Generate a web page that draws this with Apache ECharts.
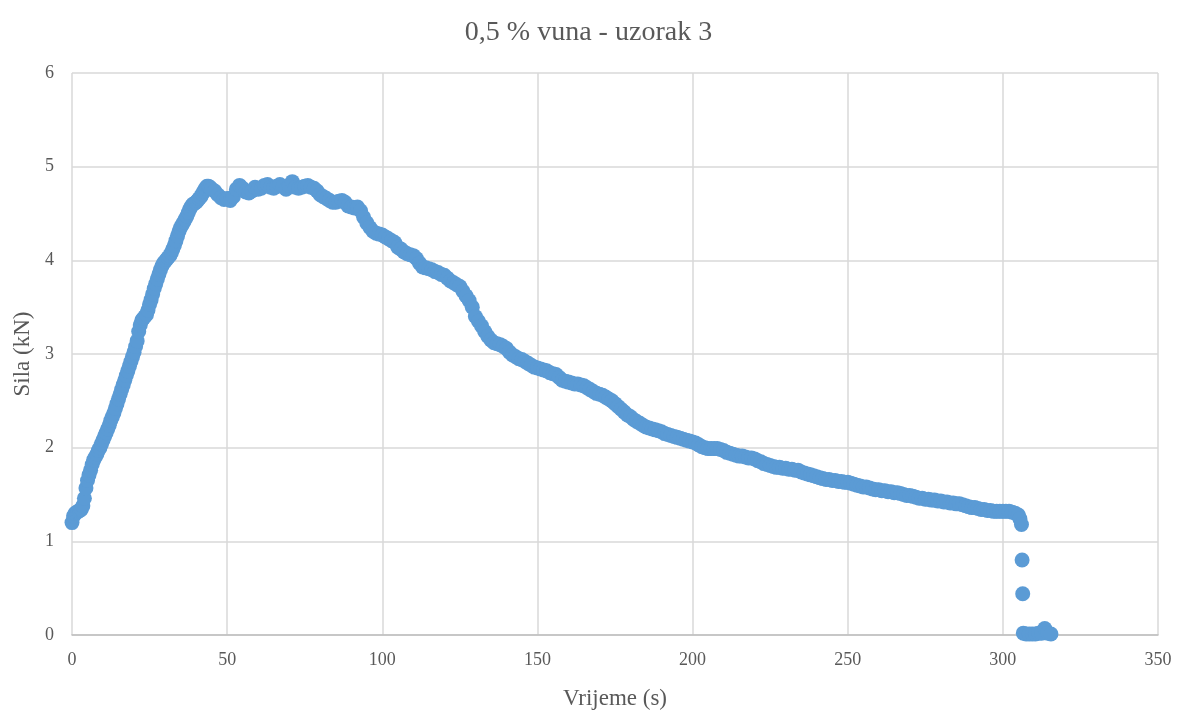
<!DOCTYPE html>
<html>
<head>
<meta charset="utf-8">
<title>0,5 % vuna - uzorak 3</title>
<script src="https://cdn.jsdelivr.net/npm/echarts@6/dist/echarts.min.js"></script>
<style>
  html, body { margin: 0; padding: 0; background: #ffffff; }
  #chart { width: 1177px; height: 715px; }
</style>
</head>
<body>
<div id="chart"></div>
<script>
// Force–time record for specimen 3 (0.5 % wool)
// Loading phase, sampled every half second
const riseTime = [
  0, 0.5, 1, 1.5, 2, 2.5, 3, 3.5, 4, 4.5, 5, 5.5, 6, 6.5, 7, 7.5, 8, 8.5, 9, 9.5,
  10, 10.5, 11, 11.5, 12, 12.5, 13, 13.5, 14, 14.5, 15, 15.5, 16, 16.5, 17, 17.5, 18, 18.5, 19, 19.5,
  20, 20.5, 21, 21.5, 22, 22.5, 23, 23.5, 24, 24.5, 25, 25.5, 26, 26.5, 27, 27.5, 28, 28.5, 29, 29.5,
  30, 30.5, 31, 31.5, 32, 32.5, 33, 33.5, 34, 34.5, 35, 35.5, 36, 36.5, 37, 37.5, 38, 38.5, 39, 39.5,
  40, 40.5, 41, 41.5, 42, 42.5, 43, 43.5, 44, 44.5, 45
];
const riseForce = [
  1.20, 1.27, 1.30, 1.31, 1.32, 1.33, 1.34, 1.38, 1.46, 1.57, 1.65, 1.71, 1.76, 1.82, 1.87, 1.90, 1.93, 1.97, 2.00, 2.04,
  2.08, 2.12, 2.16, 2.20, 2.24, 2.29, 2.33, 2.37, 2.42, 2.47, 2.52, 2.57, 2.62, 2.67, 2.72, 2.77, 2.82, 2.87, 2.92, 2.97,
  3.02, 3.08, 3.14, 3.24, 3.31, 3.36, 3.38, 3.40, 3.42, 3.47, 3.53, 3.58, 3.64, 3.70, 3.75, 3.80, 3.85, 3.90, 3.94, 3.97,
  3.99, 4.01, 4.03, 4.05, 4.08, 4.12, 4.16, 4.21, 4.26, 4.31, 4.35, 4.38, 4.41, 4.44, 4.47, 4.51, 4.55, 4.58, 4.60, 4.61,
  4.62, 4.64, 4.66, 4.68, 4.71, 4.74, 4.77, 4.79, 4.79, 4.78, 4.76
];

// Plateau and softening phase, one reading per second from 46 s to 305 s
const decayStart = 46;
const decayForce = [
  4.74, 4.70, 4.67, 4.65, 4.66, 4.64, 4.68, 4.76, 4.80, 4.77, 4.73, 4.72, 4.74, 4.78, 4.76,           // 46–60
  4.77, 4.80, 4.81, 4.78, 4.77, 4.79, 4.81, 4.79, 4.76, 4.80, 4.84, 4.78, 4.77, 4.78, 4.79,           // 61–75
  4.80, 4.78, 4.77, 4.74, 4.70, 4.68, 4.66, 4.64, 4.62, 4.62, 4.63, 4.64, 4.62, 4.58, 4.57,           // 76–90
  4.56, 4.57, 4.53, 4.46, 4.40, 4.35, 4.31, 4.29, 4.28, 4.27, 4.25, 4.23, 4.21, 4.19, 4.14,           // 91–105
  4.12, 4.09, 4.07, 4.06, 4.05, 4.02, 3.97, 3.93, 3.92, 3.91, 3.90, 3.88, 3.87, 3.85, 3.84,           // 106–120
  3.81, 3.78, 3.76, 3.74, 3.72, 3.67, 3.62, 3.57, 3.50, 3.40, 3.35, 3.30, 3.24, 3.19, 3.15,           // 121–135
  3.12, 3.11, 3.10, 3.08, 3.06, 3.02, 2.99, 2.97, 2.95, 2.94, 2.92, 2.90, 2.88, 2.86, 2.85,           // 136–150
  2.84, 2.83, 2.82, 2.80, 2.79, 2.78, 2.75, 2.72, 2.71, 2.70, 2.69, 2.68, 2.68, 2.67, 2.66,           // 151–165
  2.64, 2.62, 2.60, 2.58, 2.57, 2.56, 2.54, 2.52, 2.50, 2.47, 2.44, 2.41, 2.38, 2.35, 2.33,           // 166–180
  2.30, 2.28, 2.26, 2.24, 2.22, 2.21, 2.20, 2.19, 2.18, 2.17, 2.15, 2.14, 2.13, 2.12, 2.11,           // 181–195
  2.10, 2.09, 2.08, 2.07, 2.06, 2.05, 2.03, 2.01, 2.00, 1.99, 1.99, 1.99, 1.99, 1.98, 1.97,           // 196–210
  1.95, 1.94, 1.93, 1.92, 1.91, 1.91, 1.90, 1.89, 1.89, 1.88, 1.86, 1.85, 1.83, 1.82, 1.81,           // 211–225
  1.80, 1.79, 1.79, 1.78, 1.78, 1.77, 1.77, 1.76, 1.76, 1.74, 1.73, 1.72, 1.71, 1.70, 1.69,           // 226–240
  1.68, 1.67, 1.66, 1.66, 1.65, 1.65, 1.64, 1.64, 1.63, 1.63, 1.62, 1.61, 1.60, 1.59, 1.58,           // 241–255
  1.58, 1.57, 1.56, 1.55, 1.55, 1.54, 1.54, 1.53, 1.53, 1.52, 1.52, 1.51, 1.50, 1.49, 1.49,           // 256–270
  1.48, 1.47, 1.46, 1.46, 1.45, 1.45, 1.44, 1.44, 1.43, 1.43, 1.42, 1.42, 1.41, 1.41, 1.40,           // 271–285
  1.40, 1.39, 1.38, 1.37, 1.36, 1.36, 1.35, 1.34, 1.34, 1.33, 1.33, 1.32, 1.32, 1.32, 1.32,           // 286–300
  1.32, 1.32, 1.31, 1.30, 1.28                                                                     // 301–305
];

// Fracture and unloaded tail
const failTime = [305.5, 306, 306.2, 306.4, 306.6, 307.5, 308.5, 309.5, 310.5, 311.5, 312.5, 313.5, 314.5, 315.5];
const failForce = [1.24, 1.18, 0.80, 0.44, 0.02, 0.01, 0.01, 0.01, 0.01, 0.02, 0.02, 0.07, 0.02, 0.01];

const xTicks = [0, 50, 100, 150, 200, 250, 300, 350];
const yTicks = [0, 1, 2, 3, 4, 5, 6];

const titleText = '0,5 % vuna - uzorak 3';
const xName = 'Vrijeme (s)';
const yName = 'Sila (kN)';

const points = []
  .concat(riseTime.map((t, i) => [t, riseForce[i]]))
  .concat(decayForce.map((f, i) => [decayStart + i, f]))
  .concat(failTime.map((t, i) => [t, failForce[i]]));

const FONT = '"Liberation Serif", "Times New Roman", serif';
const TEXT = '#595959';
const GRID = '#d9d9d9';

const chart = echarts.init(document.getElementById('chart'), null, { renderer: 'canvas' });
chart.setOption({
  backgroundColor: '#ffffff',
  animation: false,
  title: {
    text: titleText,
    left: 'center',
    top: 14,
    textStyle: { fontFamily: FONT, fontSize: 28, fontWeight: 'normal', color: TEXT }
  },
  grid: { left: 72, right: 19, top: 73, bottom: 75, containLabel: false },
  xAxis: {
    type: 'value',
    min: xTicks[0], max: xTicks[xTicks.length - 1], interval: xTicks[1] - xTicks[0],
    name: xName,
    nameLocation: 'middle',
    nameGap: 52,
    nameTextStyle: { fontFamily: FONT, fontSize: 23, color: TEXT },
    axisLine: { show: true, lineStyle: { color: '#bfbfbf', width: 1.5 } },
    axisTick: { show: false },
    axisLabel: { fontFamily: FONT, fontSize: 18, color: TEXT, margin: 16 },
    splitLine: { show: true, lineStyle: { color: GRID, width: 1.5 } }
  },
  yAxis: {
    type: 'value',
    min: yTicks[0], max: yTicks[yTicks.length - 1], interval: yTicks[1] - yTicks[0],
    name: yName,
    nameLocation: 'middle',
    nameGap: 38,
    nameRotate: 90,
    nameTextStyle: { fontFamily: FONT, fontSize: 23, color: TEXT },
    axisLine: { show: false },
    axisTick: { show: false },
    axisLabel: { fontFamily: FONT, fontSize: 18, color: TEXT, margin: 18 },
    splitLine: { show: true, lineStyle: { color: GRID, width: 1.5 } }
  },
  series: [{
    type: 'scatter',
    data: points,
    symbol: 'circle',
    symbolSize: 15,
    itemStyle: { color: '#5b9bd5', opacity: 1 },
    emphasis: { disabled: true }
  }]
});
</script>
</body>
</html>
